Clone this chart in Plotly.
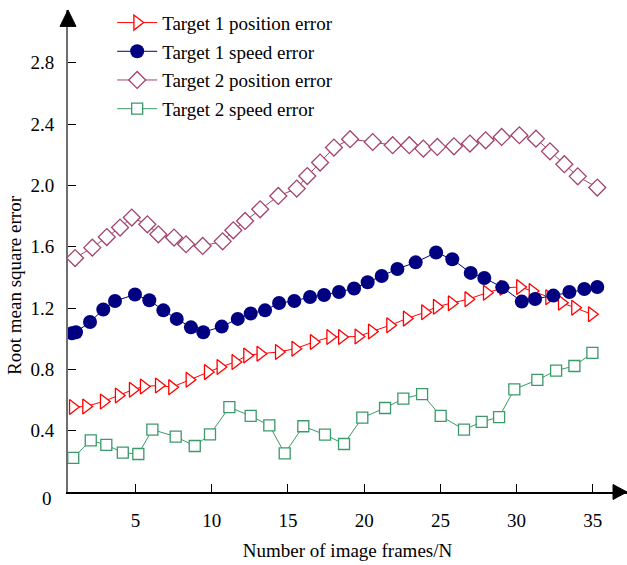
import plotly.graph_objects as go

# ---- data (x in image frames, y = RMSE) ----
t1_pos_x = [0.89, 1.76, 2.92, 3.90, 4.82, 5.54, 6.53, 7.40, 8.54, 9.74, 10.57, 11.55, 12.32, 13.19,
            14.40, 15.48, 16.69, 17.77, 18.54, 19.62, 20.50, 21.70, 22.79, 23.99, 24.76, 25.74,
            26.83, 28.04, 29.13, 30.22, 31.04, 32.13, 32.96, 33.83, 34.93]
t1_pos_y = [0.554, 0.558, 0.591, 0.630, 0.667, 0.688, 0.695, 0.684, 0.732, 0.782, 0.815, 0.848,
            0.891, 0.902, 0.913, 0.935, 0.978, 1.011, 1.011, 1.014, 1.047, 1.087, 1.131, 1.172,
            1.209, 1.231, 1.258, 1.299, 1.332, 1.337, 1.311, 1.270, 1.234, 1.202, 1.159]

t1_spd_x = [0.84, 1.10, 2.02, 2.89, 3.66, 4.97, 5.91, 6.83, 7.71, 8.64, 9.45, 10.66, 11.71, 12.56,
            13.50, 14.42, 15.42, 16.45, 17.37, 18.35, 19.34, 20.23, 21.15, 22.18, 23.38, 24.72,
            25.78, 26.99, 27.88, 29.06, 30.34, 31.21, 32.41, 33.46, 34.44, 35.29]
t1_spd_y = [1.035, 1.042, 1.109, 1.190, 1.246, 1.288, 1.251, 1.185, 1.129, 1.074, 1.042, 1.079,
            1.129, 1.164, 1.185, 1.233, 1.246, 1.272, 1.285, 1.305, 1.327, 1.368, 1.409, 1.455,
            1.498, 1.562, 1.518, 1.429, 1.396, 1.335, 1.242, 1.259, 1.281, 1.305, 1.324, 1.337]

t2_pos_x = [1.04, 2.17, 3.12, 3.99, 4.76, 5.78, 6.50, 7.53, 8.32, 9.41, 10.72, 11.42, 12.19, 13.18,
            14.37, 15.58, 16.27, 17.11, 18.02, 19.08, 20.56, 21.87, 22.96, 23.88, 24.80, 25.89,
            26.94, 27.97, 29.02, 30.18, 31.27, 32.19, 33.13, 34.01, 35.29]
t2_pos_y = [1.526, 1.594, 1.663, 1.725, 1.790, 1.746, 1.681, 1.660, 1.616, 1.605, 1.635, 1.707,
            1.768, 1.844, 1.931, 1.979, 2.061, 2.149, 2.247, 2.301, 2.283, 2.262, 2.262, 2.240,
            2.251, 2.255, 2.273, 2.294, 2.316, 2.327, 2.305, 2.222, 2.138, 2.059, 1.986]

t2_spd_x = [0.92, 2.07, 3.09, 4.17, 5.19, 6.11, 7.64, 8.89, 9.89, 11.16, 12.56, 13.78, 14.79, 16.01,
            17.43, 18.68, 19.88, 21.37, 22.57, 23.80, 25.02, 26.55, 27.71, 28.85, 29.85, 31.36,
            32.59, 33.79, 34.97]
t2_spd_y = [0.222, 0.337, 0.307, 0.257, 0.248, 0.407, 0.361, 0.300, 0.376, 0.553, 0.496, 0.435,
            0.252, 0.429, 0.374, 0.313, 0.485, 0.548, 0.609, 0.639, 0.496, 0.407, 0.457, 0.489,
            0.670, 0.731, 0.792, 0.822, 0.907]

x_ticks = [5, 10, 15, 20, 25, 30, 35]
y_ticks = [0, 0.4, 0.8, 1.2, 1.6, 2.0, 2.4, 2.8]
y_tick_text = ["", "0.4", "0.8", "1.2", "1.6", "2.0", "2.4", "2.8"]

RED = "#FF0000"
NAVY = "#000080"
MAUVE = "#A3426F"
GREEN = "#3A9A68"
FONT = "Liberation Serif"
FS = 19

fig = go.Figure()
fig.add_trace(go.Scatter(
    x=t1_pos_x, y=t1_pos_y, mode="lines+markers", name="Target 1 position error",
    legendgroup="a",
    line=dict(color=RED, width=1),
    marker=dict(symbol="triangle-right", size=13, color="white", line=dict(color=RED, width=1.3))))
fig.add_trace(go.Scatter(
    x=t1_spd_x, y=t1_spd_y, mode="lines+markers", name="Target 1 speed error",
    legendgroup="b",
    line=dict(color=NAVY, width=1),
    marker=dict(symbol="circle", size=14, color=NAVY, line=dict(width=0))))
fig.add_trace(go.Scatter(
    x=t2_pos_x, y=t2_pos_y, mode="lines+markers", name="Target 2 position error",
    legendgroup="c",
    line=dict(color=MAUVE, width=1),
    marker=dict(symbol="diamond", size=13, color="white", line=dict(color=MAUVE, width=1.3))))
fig.add_trace(go.Scatter(
    x=t2_spd_x, y=t2_spd_y, mode="lines+markers", name="Target 2 speed error",
    legendgroup="d",
    line=dict(color=GREEN, width=1),
    marker=dict(symbol="square", size=11, color="white", line=dict(color=GREEN, width=1.3))))

fig.update_layout(
    width=627, height=565,
    margin=dict(l=68, r=0, t=10, b=73),
    paper_bgcolor="white", plot_bgcolor="white",
    font=dict(family=FONT, size=FS, color="black"),
    showlegend=True,
    legend=dict(x=0.079, y=1.013, xanchor="left", yanchor="top",
                bgcolor="rgba(0,0,0,0)", font=dict(family=FONT, size=FS),
                tracegroupgap=1, itemwidth=40),
    xaxis=dict(range=[0.577, 37.24], tickvals=x_ticks, showgrid=False, zeroline=False,
               showline=True, linecolor="black", linewidth=1.5,
               ticks="inside", ticklen=8, tickcolor="black", tickwidth=1,
               ticklabelstandoff=10,
               tickfont=dict(family=FONT, size=FS),
               title=dict(text="Number of image frames/N", font=dict(family=FONT, size=FS),
                          standoff=14)),
    yaxis=dict(range=[0, 3.144], tickvals=y_ticks, ticktext=y_tick_text, showgrid=False,
               zeroline=False, showline=True, linecolor="#6e6e6e", linewidth=2,
               ticks="inside", ticklen=8, tickcolor="black", tickwidth=1,
               ticklabelstandoff=8,
               tickfont=dict(family=FONT, size=FS)),
    annotations=[
        dict(text="Root mean square error", textangle=-90, xref="paper", yref="paper",
             x=-0.095, y=0.4295, xanchor="center", yanchor="middle", showarrow=False,
             font=dict(family=FONT, size=FS)),
        dict(text="0", xref="paper", yref="paper", x=-0.037, y=-0.013,
             xanchor="center", yanchor="middle", showarrow=False,
             font=dict(family=FONT, size=FS)),
    ],
    shapes=[
        dict(type="path", xref="paper", yref="paper",
             path="M -0.0143 0.966 L 0.0143 0.966 L 0 1.0 Z",
             fillcolor="black", line=dict(color="black", width=1)),
        dict(type="path", xref="paper", yref="paper",
             path="M 0.975 0.0156 L 0.975 -0.0156 L 1.0 0 Z",
             fillcolor="black", line=dict(color="black", width=1)),
    ],
)

fig.write_html("out.html")
